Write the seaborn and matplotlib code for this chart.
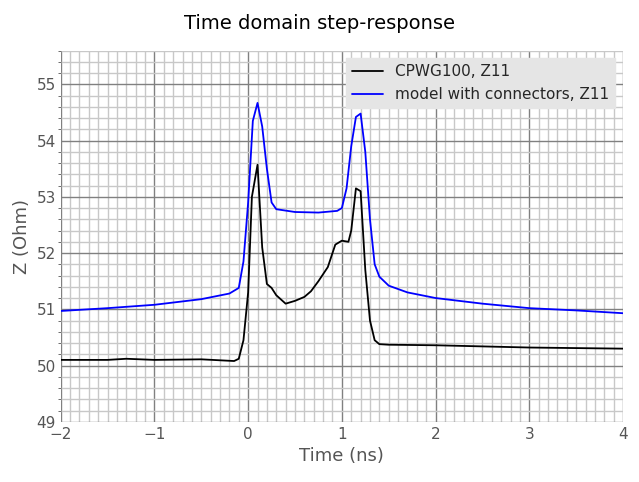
import matplotlib
matplotlib.use("Agg")
import matplotlib.pyplot as plt
import seaborn as sns
from matplotlib.ticker import MultipleLocator

t_meas = [-2, -1.5, -1.3, -1, -0.5, -0.15, -0.1, -0.05, 0, 0.04, 0.1, 0.15, 0.2, 0.25, 0.3, 0.4, 0.5, 0.6, 0.67,
          0.75, 0.85, 0.93, 1.0, 1.07, 1.1, 1.15, 1.2, 1.25, 1.3, 1.35, 1.4, 1.5, 2, 2.5, 3, 3.5, 4]
z_meas = [50.1, 50.1, 50.12, 50.1, 50.11, 50.08, 50.12, 50.45, 51.3, 53.0, 53.57, 52.1, 51.45, 51.38, 51.25, 51.1,
          51.15, 51.22, 51.32, 51.5, 51.75, 52.15, 52.22, 52.2, 52.4, 53.15, 53.1, 51.7, 50.8, 50.45, 50.38, 50.37,
          50.36, 50.34, 50.32, 50.31, 50.3]
t_model = [-2, -1.5, -1, -0.5, -0.2, -0.1, -0.05, 0, 0.05, 0.1, 0.15, 0.2, 0.25, 0.3, 0.5, 0.75, 0.95, 1.0, 1.05,
           1.1, 1.15, 1.2, 1.25, 1.3, 1.35, 1.4, 1.5, 1.7, 2, 2.5, 3, 3.5, 4]
z_model = [50.97, 51.02, 51.08, 51.18, 51.28, 51.38, 51.85, 52.9, 54.35, 54.67, 54.25, 53.5, 52.9, 52.78, 52.73,
           52.72, 52.75, 52.8, 53.15, 53.9, 54.42, 54.48, 53.8, 52.6, 51.8, 51.58, 51.42, 51.3, 51.2, 51.1, 51.02,
           50.98, 50.93]

sns.set_style("white")
fig, ax = plt.subplots(figsize=(6.39, 4.82), dpi=100)
sns.lineplot(x=t_meas, y=z_meas, ax=ax, color="black", lw=1.3, label="CPWG100, Z11")
sns.lineplot(x=t_model, y=z_model, ax=ax, color="blue", lw=1.3, label="model with connectors, Z11")
ax.set_xlim(-2, 4)
ax.set_ylim(49, 55.6)
ax.xaxis.set_major_locator(MultipleLocator(1))
ax.xaxis.set_minor_locator(MultipleLocator(0.1))
ax.yaxis.set_major_locator(MultipleLocator(1))
ax.yaxis.set_minor_locator(MultipleLocator(0.2))
ax.grid(which="major", color="gray", lw=1)
ax.grid(which="minor", color="#c8c8c8", lw=1)
ax.set_axisbelow(True)
for s in ax.spines.values():
    s.set_visible(False)
ax.tick_params(which="major", labelsize=11, colors="#555555", length=0)
ax.tick_params(which="minor", left=True, length=2, color="#555555")
ax.set_xlabel("Time (ns)", fontsize=13, color="#555555")
ax.set_ylabel("Z (Ohm)", fontsize=13, color="#555555")
fig.suptitle("Time domain step-response", fontsize=14, y=0.97, color="black")
leg = ax.legend(loc="upper right", fontsize=11, frameon=True, fancybox=False)
leg.get_frame().set_facecolor("#e5e5e5")
leg.get_frame().set_edgecolor("#e5e5e5")
leg.get_frame().set_alpha(1)
fig.subplots_adjust(left=0.095, right=0.975, top=0.895, bottom=0.125)
fig.savefig("out.png", dpi=100)
